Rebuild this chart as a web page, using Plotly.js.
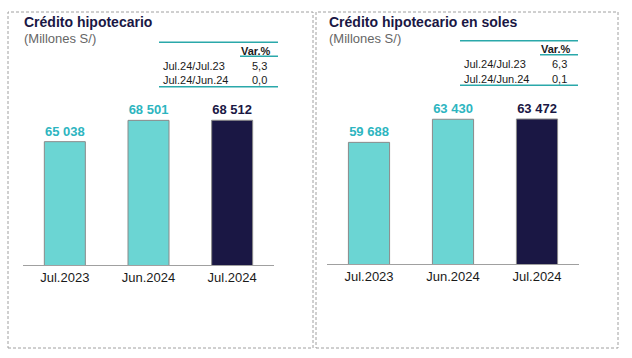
<!DOCTYPE html>
<html><head><meta charset="utf-8">
<script src="https://cdn.plot.ly/plotly-3.0.1.min.js"></script>
<style>html,body{margin:0;padding:0;background:#fff}#c{width:632px;height:358px}</style>
</head><body><div id="c"></div>
<script>
const categories = ["Jul.2023", "Jun.2024", "Jul.2024"];
const totalValues = [65038, 68501, 68512];
const solesValues = [59688, 63430, 63472];
const leftTitle = "Crédito hipotecario";
const rightTitle = "Crédito hipotecario en soles";
const unitLabel = "(Millones S/)";
const varHeader = "Var.%";
const varRows = ["Jul.24/Jul.23", "Jul.24/Jun.24"];
const leftVar = ["5,3", "0,0"];
const rightVar = ["6,3", "0,1"];

const W = 632, H = 358;
const px = x => x / W, py = y => 1 - y / H;
const TEAL = "#6BD5D3", NAVY = "#1A1744", TEALTXT = "#2DB5C0", LINE = "#2AA8AA";
const fmt = v => { const s = String(v); return s.slice(0, s.length - 3) + " " + s.slice(-3); };
const barColors = [TEAL, TEAL, NAVY];
const txtColors = [TEALTXT, TEALTXT, NAVY];

function barTrace(vals, xa, ya) {
  return {
    type: "bar", x: categories, y: vals, xaxis: xa, yaxis: ya,
    marker: {color: barColors, line: {color: "#8a8a8a", width: 1}},
    text: vals.map(fmt), textposition: "outside", cliponaxis: false,
    textfont: {family: "Liberation Sans, Arial", size: 13, weight: "bold", color: txtColors},
    hoverinfo: "skip"
  };
}

const data = [barTrace(totalValues, "x", "y"), barTrace(solesValues, "x2", "y2")];

const axX = d => ({domain: d, showline: true, linecolor: "#a0a0a0", linewidth: 1, ticks: "",
  tickfont: {family: "Liberation Sans, Arial", size: 13, color: "#1a1a1a"}, fixedrange: true, showgrid: false, zeroline: false});
const axY = (d, r, anchor) => ({domain: d, range: r, visible: false, anchor: anchor, fixedrange: true});

const shapes = [];
const annotations = [];
function panel(x0, x1, tx, title, tl, tr, ty, vars) {
  shapes.push({type: "rect", xref: "paper", yref: "paper", x0: px(x0), x1: px(x1), y0: py(348), y1: py(12),
    line: {color: "#a0a0a0", width: 1, dash: "3px,2px"}, fillcolor: "rgba(0,0,0,0)"});
  annotations.push({xref: "paper", yref: "paper", x: px(tx), y: py(22), xanchor: "left", yanchor: "middle", showarrow: false,
    text: title, font: {family: "Liberation Sans, Arial", size: 14, weight: "bold", color: NAVY}});
  annotations.push({xref: "paper", yref: "paper", x: px(tx), y: py(38), xanchor: "left", yanchor: "middle", showarrow: false,
    text: unitLabel, font: {family: "Liberation Sans, Arial", size: 13, color: "#666"}});
  // table lines
  shapes.push({type: "line", xref: "paper", yref: "paper", x0: px(tl), x1: px(tr), y0: py(ty), y1: py(ty), line: {color: LINE, width: 1.5}});
  shapes.push({type: "line", xref: "paper", yref: "paper", x0: px(tr - 38), x1: px(tr), y0: py(ty + 14), y1: py(ty + 14), line: {color: LINE, width: 1.5}});
  shapes.push({type: "line", xref: "paper", yref: "paper", x0: px(tl), x1: px(tr), y0: py(ty + 44.5), y1: py(ty + 44.5), line: {color: LINE, width: 1.5}});
  annotations.push({xref: "paper", yref: "paper", x: px(tr - 5), y: py(ty + 8.5), xanchor: "right", yanchor: "middle", showarrow: false,
    text: varHeader, font: {family: "Liberation Sans, Arial", size: 11, weight: "bold", color: "#1a1a1a"}});
  varRows.forEach((r, i) => {
    annotations.push({xref: "paper", yref: "paper", x: px(tl + 2), y: py(ty + 23.5 + i * 14.5), xanchor: "left", yanchor: "middle", showarrow: false,
      text: r, font: {family: "Liberation Sans, Arial", size: 11, color: "#1a1a1a"}});
    annotations.push({xref: "paper", yref: "paper", x: px(tr - 19), y: py(ty + 23.5 + i * 14.5), xanchor: "center", yanchor: "middle", showarrow: false,
      text: vars[i], font: {family: "Liberation Sans, Arial", size: 11, color: "#1a1a1a"}});
  });
}
panel(8, 313, 22, leftTitle, 159, 278, 42.3, leftVar);
panel(316, 618, 327, rightTitle, 460, 578, 40.7, rightVar);

const layout = {
  width: W, height: H, margin: {l: 0, r: 0, t: 0, b: 0},
  paper_bgcolor: "#fff", plot_bgcolor: "rgba(0,0,0,0)",
  showlegend: false, bargap: 0.51,
  xaxis: axX([px(23), px(274)]),
  yaxis: axY([py(265), py(100)], [45000, 71807], "x"),
  xaxis2: Object.assign(axX([px(327), px(579)]), {anchor: "y2"}),
  yaxis2: axY([py(264), py(100)], [40000, 66546], "x2"),
  shapes: shapes, annotations: annotations
};
layout.xaxis.anchor = "y";
Plotly.newPlot("c", data, layout, {displayModeBar: false, staticPlot: true});
</script>
</body></html>
